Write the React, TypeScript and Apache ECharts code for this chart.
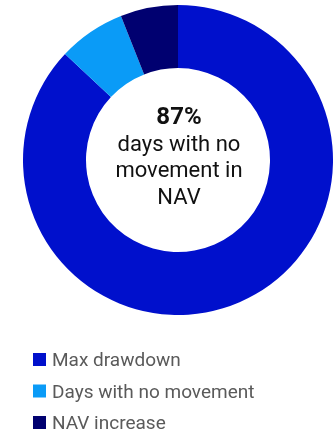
import React, { useEffect, useRef } from "react";
import * as echarts from "echarts";

const categories = ["Max drawdown", "Days with no movement", "NAV increase"];
const values = [87, 7, 6];
const colors = ["#0010CC", "#0A9BF7", "#000070"];
const centerValue = "87%";
const centerLines = ["days with no", "movement in", "NAV"];

export default function App() {
  const ref = useRef<HTMLDivElement>(null);
  useEffect(() => {
    const chart = echarts.init(ref.current!, null, { renderer: "svg" });
    chart.setOption({
      animation: false,
      legend: {
        orient: "vertical",
        left: 33,
        top: 350,
        height: 120,
        padding: 0,
        itemWidth: 13,
        itemHeight: 13,
        itemGap: 12.5,
        icon: "rect",
        textStyle: { fontFamily: "Roboto", fontSize: 19, color: "#5a5a5a", padding: [0, 0, 0, 1] },
        data: categories,
      },
      series: [
        {
          type: "pie",
          center: [178, 160],
          radius: [92, 155],
          startAngle: 90,
          clockwise: true,
          label: { show: false },
          labelLine: { show: false },
          emphasis: { disabled: true },
          itemStyle: { borderWidth: 0 },
          data: categories.map((name, i) => ({
            name,
            value: values[i],
            itemStyle: { color: colors[i] },
          })),
        },
      ],
      graphic: [
        {
          type: "text",
          x: 179,
          y: 116,
          style: {
            text: centerValue,
            fontFamily: "Roboto",
            fontWeight: "bold",
            fontSize: 24,
            fill: "#111",
            align: "center",
            verticalAlign: "middle",
          },
        },
        ...centerLines.map((t, i) => ({
          type: "text",
          x: 179,
          y: 143 + i * 26.5,
          style: {
            text: t,
            fontFamily: "Roboto",
            fontSize: 22,
            fill: "#111",
            align: "center",
            verticalAlign: "middle",
          },
        })),
      ],
    });
    return () => chart.dispose();
  }, []);
  return <div ref={ref} style={{ position: "fixed", left: 0, top: 0, width: 333, height: 434 }} />;
}
